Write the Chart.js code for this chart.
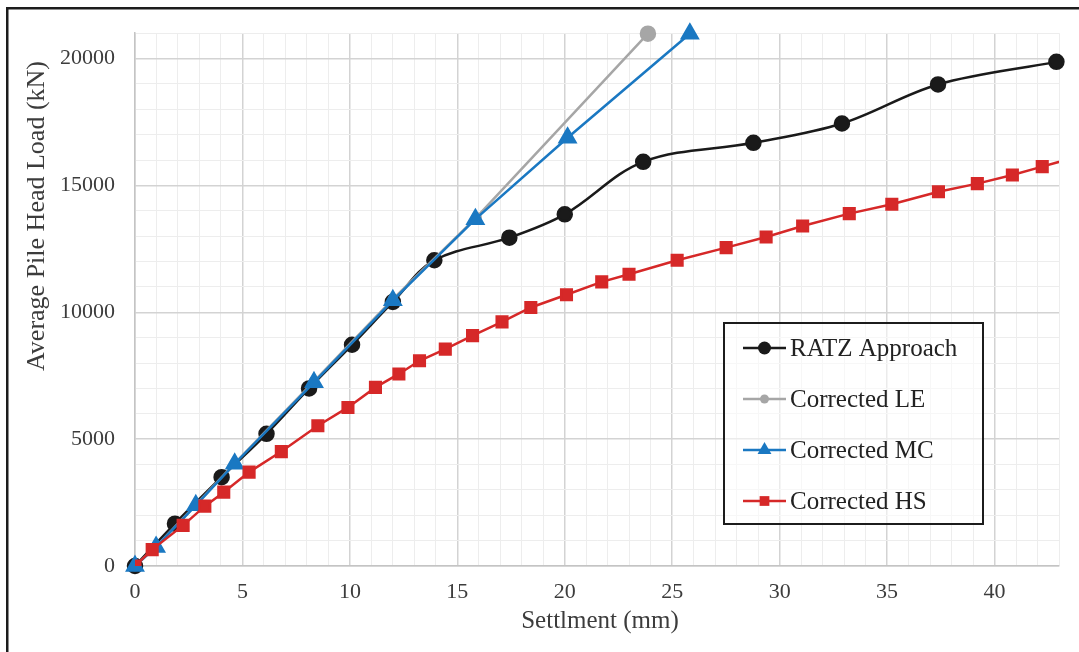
<!DOCTYPE html>
<html>
<head>
<meta charset="utf-8">
<title>Average Pile Head Load vs Settlment</title>
<script src="https://cdn.jsdelivr.net/npm/chart.js@4/dist/chart.umd.min.js"></script>
<style>
  html, body { margin: 0; padding: 0; background: #ffffff; }
  #chartBox { width: 1079px; height: 652px; }
</style>
</head>
<body>
<div id="chartBox"><canvas id="loadChart" width="1079" height="652"></canvas></div>
<script>
// Series: settlement in mm, load in kN
const seriesNames = ['RATZ Approach', 'Corrected LE', 'Corrected MC', 'Corrected HS'];

const ratzSettlement = [0, 1.86, 4.03, 6.12, 8.1, 10.1, 12.0, 13.93, 17.42, 20.0, 23.65, 28.78, 32.9, 37.37, 42.88];
const ratzLoad = [0, 1670, 3500, 5210, 7000, 8720, 10410, 12050, 12940, 13860, 15930, 16680, 17440, 18980, 19870];

const leSettlement = [0, 0.98, 2.83, 4.64, 8.33, 12.0, 15.9, 23.87];
const leLoad = [0, 760, 2410, 4050, 7280, 10520, 13750, 20980];

const mcSettlement = [0, 0.98, 2.83, 4.64, 8.33, 12.0, 15.84, 20.13, 25.82];
const mcLoad = [0, 750, 2390, 4030, 7240, 10470, 13670, 16880, 20980];

const hsSettlement = [0, 0.8, 2.24, 3.25, 4.13, 5.31, 6.81, 8.51, 9.91, 11.19, 12.28, 13.24, 14.44, 15.71, 17.08,
  18.42, 20.08, 21.72, 22.99, 25.23, 27.51, 29.37, 31.07, 33.24, 35.22, 37.39, 39.2, 40.83, 42.22, 43.6];
const hsLoad = [0, 645, 1600, 2360, 2910, 3700, 4510, 5530, 6250, 7040, 7570, 8090, 8550, 9080, 9620,
  10190, 10690, 11200, 11500, 12050, 12550, 12970, 13400, 13890, 14260, 14750, 15070, 15410, 15740, 16070];

// Axis ranges and labelled ticks
const xMax = 43;
const yMax = 21000;
const xLabelStep = 5;
const yLabelStep = 5000;

const textColor = '#3c3c3c';
const majorGrid = '#d3d3d3';
const minorGrid = '#ededed';

// Function to zip two arrays into {x, y} points for the chart
function toPoints(xs, ys) {
  return xs.map((x, i) => ({ x: x, y: ys[i] }));
}

// Function to draw a small marker for the legend
function drawMarker(ctx, style, x, y, r, color) {
  ctx.save();
  ctx.fillStyle = color;
  ctx.beginPath();
  if (style === 'triangle') {
    ctx.moveTo(x, y - r);
    ctx.lineTo(x + r * 0.866, y + r * 0.5);
    ctx.lineTo(x - r * 0.866, y + r * 0.5);
    ctx.closePath();
  } else if (style === 'rect') {
    ctx.rect(x - r * 0.75, y - r * 0.75, r * 1.5, r * 1.5);
  } else {
    ctx.arc(x, y, r, 0, Math.PI * 2);
  }
  ctx.fill();
  ctx.restore();
}

// Plugin: outer frame, y axis title, x axis title and the boxed legend
const decorations = {
  id: 'decorations',
  afterDraw(chart) {
    const ctx = chart.ctx;
    ctx.save();

    // frame around the figure (left and top edges show in the picture)
    ctx.fillStyle = '#1c1c1c';
    ctx.fillRect(6, 7, 2.5, 652);
    ctx.fillRect(6, 7, 1079, 2.5);

    // axis titles
    ctx.fillStyle = textColor;
    ctx.font = '25px "Liberation Serif"';
    ctx.textAlign = 'center';
    ctx.textBaseline = 'alphabetic';
    ctx.fillText('Settlment (mm)', 600, 628);

    ctx.save();
    ctx.translate(44, 216);
    ctx.rotate(-Math.PI / 2);
    ctx.font = '26px "Liberation Serif"';
    ctx.fillText('Average Pile Head Load (kN)', 0, 0);
    ctx.restore();

    // legend box
    const box = { left: 724, top: 323, width: 259, height: 201 };
    ctx.fillStyle = 'rgba(255,255,255,0.55)';
    ctx.fillRect(box.left, box.top, box.width, box.height);
    ctx.strokeStyle = '#1c1c1c';
    ctx.lineWidth = 2;
    ctx.strokeRect(box.left, box.top, box.width, box.height);

    const legendMarkers = [6.5, 4.5, 8, 6.5];
    chart.data.datasets.forEach((ds, i) => {
      const y = box.top + 25 + i * 51;
      ctx.strokeStyle = ds.borderColor;
      ctx.lineWidth = 2.5;
      ctx.beginPath();
      ctx.moveTo(743, y);
      ctx.lineTo(786, y);
      ctx.stroke();
      drawMarker(ctx, ds.pointStyle, 764.5, y, legendMarkers[i], ds.borderColor);
      ctx.fillStyle = '#222222';
      ctx.font = '25px "Liberation Serif"';
      ctx.textAlign = 'left';
      ctx.textBaseline = 'middle';
      ctx.fillText(ds.label, 790, y + 1);
    });

    ctx.restore();
  }
};

// Function to build the chart
function initializeLoadChart() {
  const ctx = document.getElementById('loadChart').getContext('2d');
  window.loadChart = new Chart(ctx, {
    type: 'line',
    data: {
      datasets: [
        {
          label: seriesNames[0],
          data: toPoints(ratzSettlement, ratzLoad),
          borderColor: '#1a1a1a',
          backgroundColor: '#1a1a1a',
          borderWidth: 2.5,
          pointStyle: 'circle',
          pointRadius: 7,
          tension: 0.35,
          clip: false,
          order: 3
        },
        {
          label: seriesNames[1],
          data: toPoints(leSettlement, leLoad),
          borderColor: '#a6a6a6',
          backgroundColor: '#a6a6a6',
          borderWidth: 2.5,
          pointStyle: 'circle',
          pointRadius: (c) => (c.dataIndex === leSettlement.length - 1 ? 7 : 4),
          tension: 0,
          clip: false,
          order: 2
        },
        {
          label: seriesNames[2],
          data: toPoints(mcSettlement, mcLoad),
          borderColor: '#1a78c2',
          backgroundColor: '#1a78c2',
          borderWidth: 2.5,
          pointStyle: 'triangle',
          pointRadius: 9,
          tension: 0,
          clip: false,
          order: 1
        },
        {
          label: seriesNames[3],
          data: toPoints(hsSettlement, hsLoad),
          borderColor: '#d62828',
          backgroundColor: '#d62828',
          borderWidth: 2.5,
          pointStyle: 'rect',
          pointRadius: 7.5,
          tension: 0,
          order: 0
        }
      ]
    },
    options: {
      responsive: false,
      animation: false,
      layout: { padding: { top: 32, right: 20, left: 0, bottom: 0 } },
      plugins: {
        legend: { display: false },
        tooltip: { enabled: false }
      },
      elements: { point: { borderWidth: 1 } },
      scales: {
        x: {
          type: 'linear',
          min: 0,
          max: xMax,
          afterFit: (scale) => { scale.height = 86; },
          border: { color: '#c4c4c4', width: 1.5 },
          grid: {
            drawTicks: false,
            color: (c) => (c.tick && c.tick.value % xLabelStep === 0 ? majorGrid : minorGrid),
            lineWidth: (c) => (c.tick && c.tick.value % xLabelStep === 0 ? 1.5 : 1)
          },
          ticks: {
            stepSize: 1,
            autoSkip: false,
            maxRotation: 0,
            padding: 13,
            color: textColor,
            font: { family: 'Liberation Serif', size: 22 },
            callback: (v) => (v % xLabelStep === 0 ? String(v) : '')
          }
        },
        y: {
          type: 'linear',
          min: 0,
          max: yMax,
          afterFit: (scale) => { scale.width = 135; },
          border: { color: '#c4c4c4', width: 1.5 },
          grid: {
            drawTicks: false,
            color: (c) => (c.tick && c.tick.value % yLabelStep === 0 ? majorGrid : minorGrid),
            lineWidth: (c) => (c.tick && c.tick.value % yLabelStep === 0 ? 1.5 : 1)
          },
          ticks: {
            stepSize: 1000,
            autoSkip: false,
            padding: 20,
            color: textColor,
            font: { family: 'Liberation Serif', size: 22 },
            callback: (v) => (v % yLabelStep === 0 ? String(v) : '')
          }
        }
      }
    },
    plugins: [decorations]
  });
}

document.addEventListener('DOMContentLoaded', () => {
  initializeLoadChart();
});
</script>
</body>
</html>
